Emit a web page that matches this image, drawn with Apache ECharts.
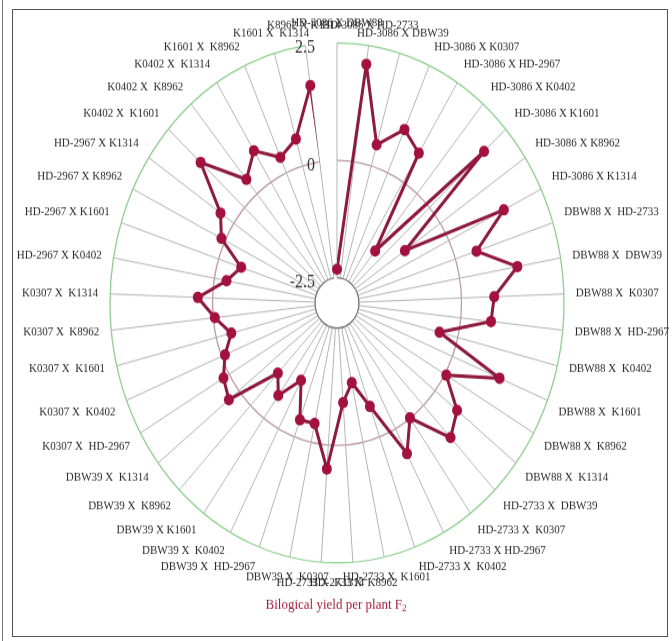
<!DOCTYPE html>
<html>
<head>
<meta charset="utf-8">
<script src="https://cdn.jsdelivr.net/npm/echarts@6/dist/echarts.min.js"></script>
<style>
  html, body { margin: 0; padding: 0; background: #fff; }
  #wrap { position: relative; width: 672px; height: 641px; overflow: hidden; }
  #frame { position: absolute; left: 12px; top: 9px; width: 654px; height: 626px; border: 1px solid #555; }
  #edge { position: absolute; left: 2px; top: 0; width: 1px; height: 641px; background: #777; }
  /* the chart is drawn at 560px tall and stretched to the full page height */
  #chart { position: absolute; left: 0; top: 0; width: 672px; height: 560px;
           transform: scaleY(1.1446); transform-origin: 0 0; }
</style>
</head>
<body>
<div id="wrap">
  <div id="edge"></div>
  <div id="frame"></div>
  <div id="chart"></div>
</div>
<script>
// Crosses, clockwise from the top spoke
const crosses = [
  'HD-3086 X DBW88', 'HD-3086 X HD-2733', 'HD-3086 X DBW39', 'HD-3086 X K0307',
  'HD-3086 X HD-2967', 'HD-3086 X K0402', 'HD-3086 X K1601', 'HD-3086 X K8962',
  'HD-3086 X K1314', 'DBW88 X  HD-2733', 'DBW88 X  DBW39', 'DBW88 X  K0307',
  'DBW88 X  HD-2967', 'DBW88 X  K0402', 'DBW88 X  K1601', 'DBW88 X  K8962',
  'DBW88 X  K1314', 'HD-2733 X  DBW39', 'HD-2733 X  K0307', 'HD-2733 X HD-2967',
  'HD-2733 X  K0402', 'HD-2733 X  K1601', 'HD-2733 X  K8962', 'HD-2733 X  K1314',
  'DBW39 X  K0307', 'DBW39 X  HD-2967', 'DBW39 X  K0402', 'DBW39 X K1601',
  'DBW39 X  K8962', 'DBW39 X  K1314', 'K0307 X  HD-2967', 'K0307 X  K0402',
  'K0307 X  K1601', 'K0307 X  K8962', 'K0307 X  K1314', 'HD-2967 X K0402',
  'HD-2967 X K1601', 'HD-2967 X K8962', 'HD-2967 X K1314', 'K0402 X  K1601',
  'K0402 X  K8962', 'K0402 X  K1314', 'K1601 X  K8962', 'K1601 X  K1314',
  'K8962 X K1314'
];

// Biological yield per plant (F2), one value per cross
const yieldF2 = [
  -2.32, 2.10, 0.47, 1.01, 0.73, -1.59, 1.79, -1.04, 1.49,
  0.54, 1.43, 0.80, 0.74, -0.46, 1.24, 0.04, 0.68,
  0.95, -0.01, 0.60, -0.69, -1.30, -0.91, 0.51,
  -0.41, -0.39, -1.17, -0.60, -0.96, 0.31,
  0.16, -0.09, -0.38, -0.04, 0.36,
  -0.30, -0.58, 0.10, 0.39,
  1.44, 0.40, 0.79,
  0.36, 0.60,
  1.64
];

// Radial scale
const radialMin = -2.5;
const radialMax = 2.5;
const radialStep = 2.5;

const lineColor = '#8e1a3e';
const dotColor = '#a3123f';
const serif = '"Liberation Serif", "DejaVu Serif", serif';

// Segment that joins the last cross back to the first one
const closing = yieldF2.map((v, i) => (i === 0 || i === yieldF2.length - 1) ? v : null);

const chart = echarts.init(document.getElementById('chart'), null, { renderer: 'canvas' });
chart.setOption({
  animation: false,
  backgroundColor: 'transparent',
  title: {
    text: '{t|Bilogical yield per plant F}{s|2}',
    left: 'center',
    top: 516,
    textStyle: {
      rich: {
        t: { fontFamily: serif, fontSize: 13, fontWeight: 'normal', color: '#a31d3d' },
        s: { fontFamily: serif, fontSize: 9, fontWeight: 'normal', color: '#a31d3d', verticalAlign: 'bottom', padding: [6, 0, 0, 0] }
      }
    }
  },
  polar: {
    center: [337, 264.7],
    radius: [22, 227]
  },
  angleAxis: {
    type: 'category',
    data: crosses,
    startAngle: 90,
    clockwise: true,
    boundaryGap: false,
    axisTick: { show: false },
    axisLine: { show: false },
    splitLine: { show: true, lineStyle: { color: '#b4b4b4', width: 1 } },
    axisLabel: {
      interval: 0,
      margin: 12,
      fontFamily: serif,
      fontSize: 11,
      color: '#2a2a2a'
    }
  },
  radiusAxis: {
    type: 'value',
    min: radialMin,
    max: radialMax,
    interval: radialStep,
    axisLine: { show: false },
    axisTick: { show: false },
    axisLabel: {
      show: true,
      margin: 22,
      verticalAlign: 'top',
      lineHeight: 9,
      fontFamily: serif,
      fontSize: 16,
      color: '#333'
    },
    splitLine: {
      show: true,
      lineStyle: { color: ['#6a6a6a', '#bb9aa0', '#8fd08f'], width: 1.3 }
    }
  },
  series: [
    {
      type: 'line',
      coordinateSystem: 'polar',
      data: yieldF2,
      symbol: 'circle',
      symbolSize: 10,
      lineStyle: { color: lineColor, width: 3 },
      itemStyle: { color: dotColor },
      z: 5
    },
    {
      type: 'line',
      coordinateSystem: 'polar',
      data: closing,
      connectNulls: true,
      symbol: 'none',
      lineStyle: { color: lineColor, width: 3 },
      z: 4
    }
  ]
});
</script>
</body>
</html>
